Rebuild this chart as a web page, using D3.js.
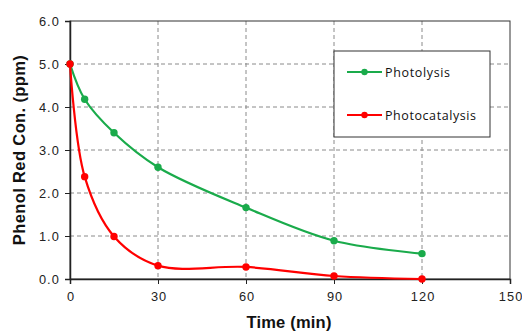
<!DOCTYPE html>
<html><head><meta charset="utf-8">
<script src="https://cdn.jsdelivr.net/npm/d3@7"></script>
<style>body{margin:0;background:#fff}svg{display:block}</style>
</head><body><svg id="c" width="522" height="331"></svg>
<script>
const time = [0, 5, 15, 30, 60, 90, 120];
const photolysis = [5.0, 4.18, 3.40, 2.60, 1.66, 0.89, 0.59];
const photocatalysis = [5.0, 2.38, 0.99, 0.31, 0.28, 0.07, 0.0];
const xTicks = [0, 30, 60, 90, 120, 150];
const yTicks = [0, 1, 2, 3, 4, 5, 6];
const seriesNames = ["Photolysis", "Photocatalysis"];
const seriesColors = ["#1aab4b", "#ff0000"];

const svg = d3.select("#c");
const L = 70, R = 510, T = 21, B = 279;
const x = d3.scaleLinear().domain([0, 150]).range([L, R]);
const y = d3.scaleLinear().domain([0, 6]).range([B, T]);
const font = "Liberation Sans, Arial, sans-serif";

function fit(sel, target) {
  const n = sel.text().length;
  const w = sel.node().getComputedTextLength();
  sel.attr("letter-spacing", (target - w) / Math.max(1, n - 1));
}

// gridlines
svg.append("g").selectAll("line").data(xTicks.filter(d => d > 0 && d < 150)).join("line")
  .attr("x1", d => x(d)).attr("x2", d => x(d)).attr("y1", T).attr("y2", B)
  .attr("stroke", "#8a8a8a").attr("stroke-dasharray", "4,3").attr("stroke-width", 1);
svg.append("g").selectAll("line").data(yTicks.filter(d => d > 0 && d < 6)).join("line")
  .attr("x1", L).attr("x2", R).attr("y1", d => y(d)).attr("y2", d => y(d))
  .attr("stroke", "#8a8a8a").attr("stroke-dasharray", "4,3").attr("stroke-width", 1);

// frame
svg.append("rect").attr("x", L).attr("y", T).attr("width", R - L).attr("height", B - T)
  .attr("fill", "none").attr("stroke", "#333").attr("stroke-width", 1);

// axes
const xa = svg.append("g").attr("transform", `translate(0,${B})`)
  .call(d3.axisBottom(x).tickValues(xTicks).tickSize(5).tickFormat(d3.format("d")));
const ya = svg.append("g").attr("transform", `translate(${L},0)`)
  .call(d3.axisLeft(y).tickValues(yTicks).tickSize(5).tickFormat(d3.format(".1f")));
[xa, ya].forEach(a => {
  a.select(".domain").attr("stroke", "#222").attr("stroke-width", 1.5);
  a.selectAll(".tick line").attr("stroke", "#222");
  a.selectAll("text").attr("font-family", font).attr("font-size", 12.8).attr("fill", "#222")
    .attr("letter-spacing", 1.1);
});
xa.selectAll("text").attr("dy", "1.1em").attr("dx", 0.6);
ya.selectAll("text").attr("x", -10);

// titles
const xt = svg.append("text").attr("x", 289).attr("y", 328).attr("text-anchor", "middle")
  .attr("font-family", font).attr("font-weight", "bold").attr("font-size", 16.5).attr("fill", "#111")
  .text("Time (min)");
fit(xt, 85);
const yt = svg.append("text").attr("transform", `translate(25,150) rotate(-90)`)
  .attr("text-anchor", "middle").attr("font-family", font).attr("font-weight", "bold")
  .attr("font-size", 16.5).attr("fill", "#111").text("Phenol Red Con. (ppm)");
fit(yt, 190);

// series
const data = [photolysis, photocatalysis];
const line = d3.line().x(d => x(d[0])).y(d => y(d[1])).curve(d3.curveCatmullRom.alpha(0.5));
data.forEach((vals, i) => {
  const pts = time.map((t, j) => [t, vals[j]]);
  svg.append("path").datum(pts).attr("d", line).attr("fill", "none")
    .attr("stroke", seriesColors[i]).attr("stroke-width", 2.2);
  svg.append("g").selectAll("circle").data(pts).join("circle")
    .attr("cx", d => x(d[0])).attr("cy", d => y(d[1])).attr("r", 3.7)
    .attr("fill", seriesColors[i]);
});

// legend
const lg = svg.append("g");
lg.append("rect").attr("x", 334).attr("y", 51).attr("width", 156).attr("height", 86)
  .attr("fill", "#fff").attr("stroke", "#333").attr("stroke-width", 1);
const legendWidths = [65, 91];
seriesNames.forEach((n, i) => {
  const ly = 72 + i * 43;
  lg.append("line").attr("x1", 347).attr("x2", 382).attr("y1", ly).attr("y2", ly)
    .attr("stroke", seriesColors[i]).attr("stroke-width", 2.2);
  lg.append("circle").attr("cx", 364.5).attr("cy", ly).attr("r", 3.2).attr("fill", seriesColors[i]);
  const t = lg.append("text").attr("x", 385).attr("y", ly + 4.5).attr("font-family", "Open Sans, sans-serif")
    .attr("font-size", 12.5).attr("fill", "#111").text(n);
  fit(t, legendWidths[i]);
});
</script></body></html>
